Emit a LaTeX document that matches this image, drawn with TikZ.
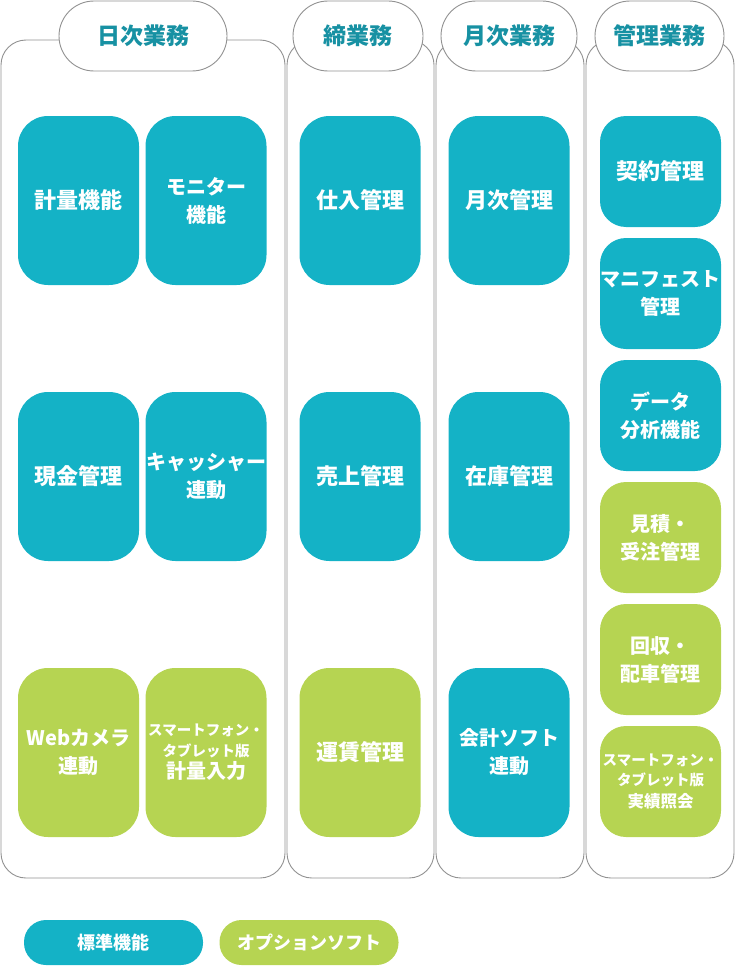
\documentclass[tikz,border=0pt]{standalone}
\usepackage{fontspec}
\setmainfont{Noto Sans CJK JP}
\definecolor{teal1}{RGB}{20,178,198}
\definecolor{green1}{RGB}{182,212,82}
\definecolor{headtxt}{RGB}{23,145,163}
\definecolor{frame}{RGB}{145,145,145}
\begin{document}
\begin{tikzpicture}[x=1pt,y=-1pt,
    panel/.style={draw=frame,line width=0.9pt,rounded corners=25pt},
    head/.style={draw=frame,line width=0.9pt,fill=white,rounded corners=35pt,
      minimum height=70pt,inner sep=0pt,text=headtxt,
      font=\fontsize{23}{28}\selectfont\bfseries},
    card/.style={minimum width=121pt,inner sep=0pt,text=white,align=center,
      font=\fontsize{20}{28}\selectfont\bfseries},
    big/.style={font=\fontsize{22}{28}\selectfont\bfseries},
    tiny/.style={font=\fontsize{14.5}{20.5}\selectfont\bfseries},
    tall/.style={card,minimum height=169pt,rounded corners=30pt},
    short/.style={card,minimum height=111pt,rounded corners=26pt},
    std/.style={fill=teal1},
    opt/.style={fill=green1},
    key/.style={minimum width=179pt,minimum height=45pt,inner sep=0pt,
      rounded corners=22pt,text=white,font=\fontsize{18}{22}\selectfont\bfseries}]
    \useasboundingbox (0,0) rectangle (735,966);

    % columns
    \foreach \l/\r in {1/285,287/434,436/584,586/734}
      \draw[panel] (\l,40) rectangle (\r,878);

    \node[head,minimum width=168pt] (daily) at (143,36) {日次業務};
    \node[head,minimum width=130pt] (closing) at (358,36) {締業務};
    \node[head,minimum width=136pt] (monthly) at (509,36) {月次業務};
    \node[head,minimum width=129pt] (admin) at (659.5,36) {管理業務};

    % 日次業務
    \node[tall,std,big] (weigh) at (78.5,200.5) {計量機能};
    \node[tall,std] (monitor) at (206,200.5) {モニター\\機能};
    \node[tall,std,big] (cash) at (78.5,476.5) {現金管理};
    \node[tall,std] (register) at (206,476.5) {キャッシャー\\連動};
    \node[tall,opt] (webcam) at (78.5,752.5) {Webカメラ\\連動};
    \node[tall,opt,tiny] (mobilein) at (206,752.5)
      {スマートフォン・\\タブレット版\\[2pt]\fontsize{20}{20.5}\selectfont 計量入力};

    % 締業務
    \node[tall,std,big] (purchase) at (360,200.5) {仕入管理};
    \node[tall,std,big] (sales) at (360,476.5) {売上管理};
    \node[tall,opt,big] (freight) at (360,752.5) {運賃管理};

    % 月次業務
    \node[tall,std,big] (month) at (509,200.5) {月次管理};
    \node[tall,std,big] (stock) at (509,476.5) {在庫管理};
    \node[tall,std] (account) at (509,752.5) {会計ソフト\\連動};

    % 管理業務
    \node[short,std,big] (contract) at (660.5,171.5) {契約管理};
    \node[short,std] (manifest) at (660.5,293.5) {マニフェスト\\管理};
    \node[short,std] (data) at (660.5,415.5) {データ\\分析機能};
    \node[short,opt] (estimate) at (660.5,537.5) {見積・\\受注管理};
    \node[short,opt] (collect) at (660.5,659.5) {回収・\\配車管理};
    \node[short,opt,tiny] (mobileref) at (660.5,781.5)
      {スマートフォン・\\タブレット版\\[1pt]\fontsize{16.5}{20.5}\selectfont 実績照会};

    % legend
    \node[key,fill=teal1] (stdkey) at (113.5,942.5) {標準機能};
    \node[key,fill=green1] (optkey) at (309,942.5) {オプションソフト};
\end{tikzpicture}
\end{document}
